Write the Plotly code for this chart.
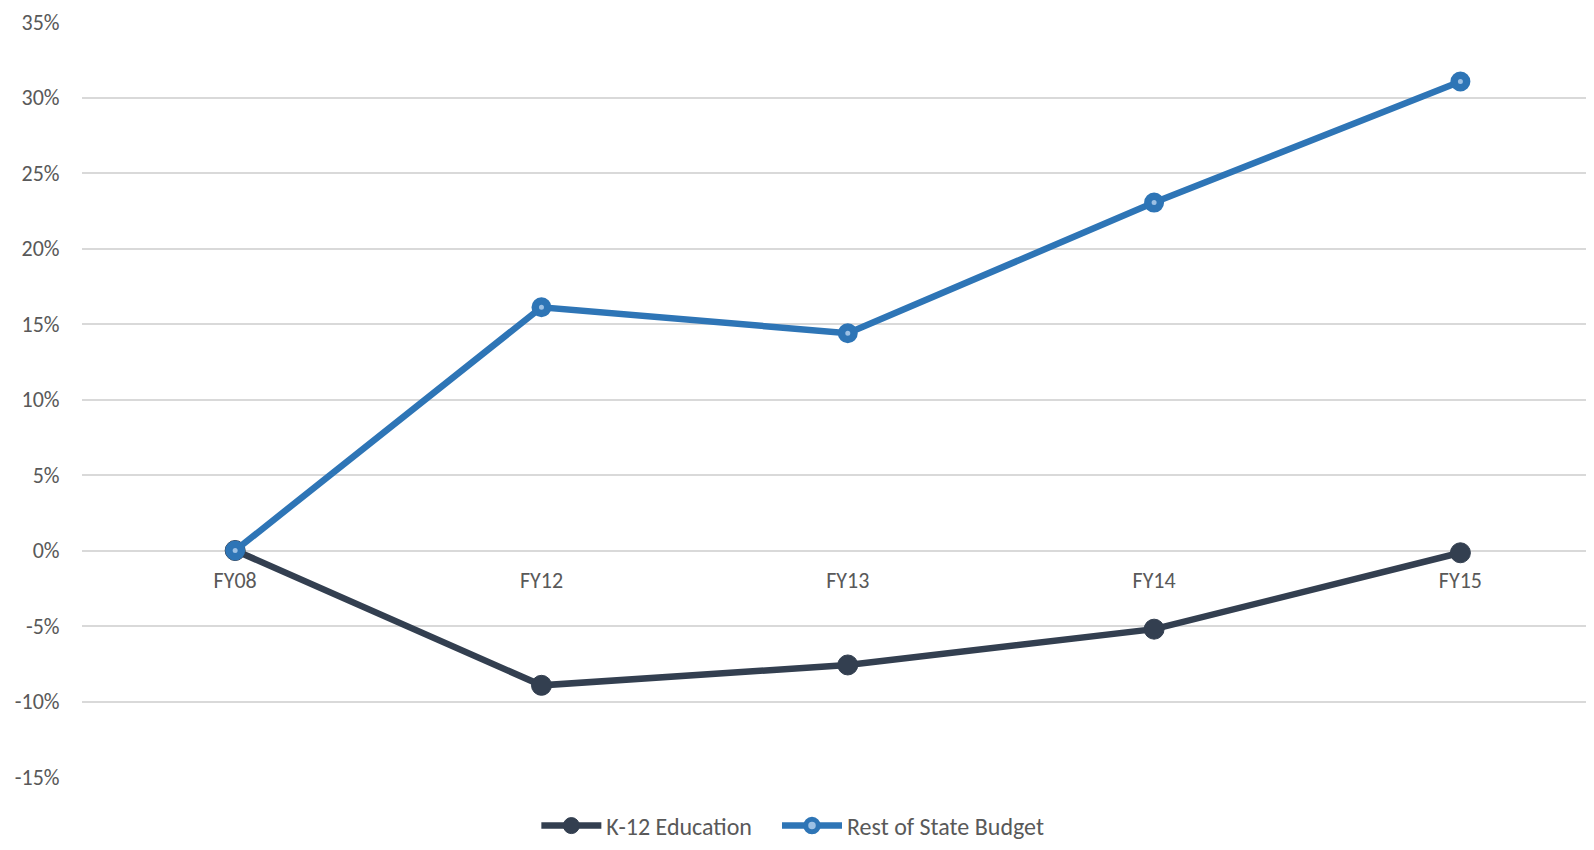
import plotly.graph_objects as go

categories = ["FY08", "FY12", "FY13", "FY14", "FY15"]
k12_values = [0.0, -8.93, -7.58, -5.21, -0.15]
rest_values = [0.0, 16.11, 14.39, 23.04, 31.06]
y_ticks = [-15, -10, -5, 0, 5, 10, 15, 20, 25, 30, 35]
y_tick_labels = [f"{v}%" for v in y_ticks]

dark = "#333f50"
blue = "#2e75b6"
font_family = "Carlito, Lato, 'Open Sans', sans-serif"

fig = go.Figure()
fig.add_trace(go.Scatter(
    x=categories, y=k12_values, name="K-12 Education", mode="lines+markers",
    line=dict(color=dark, width=6.5),
    marker=dict(size=20, color=dark, line=dict(color=dark, width=1)),
    legend="legend",
))
fig.add_trace(go.Scatter(
    x=categories, y=rest_values, name="Rest of State Budget", mode="lines+markers",
    line=dict(color=blue, width=6.5),
    marker=dict(size=12.5, color="#9cc0e4", line=dict(color=blue, width=7.5)),
    legend="legend2",
))

legend_style = dict(orientation="h", xanchor="left", y=-0.0649, yanchor="middle",
                    font=dict(size=24, color="#595959"), itemwidth=60,
                    bgcolor="rgba(0,0,0,0)")

fig.update_layout(
    width=1578, height=834,
    margin=dict(l=73.5, r=0, t=14, b=65, autoexpand=False),
    plot_bgcolor="white", paper_bgcolor="white",
    font=dict(family=font_family, size=22, color="#595959"),
    showlegend=True,
    legend=dict(x=0.3021, **legend_style),
    legend2=dict(x=0.4621, **legend_style),
    xaxis=dict(
        type="category", range=[-0.5, 4.41],
        showgrid=False, zeroline=False, showline=False,
        anchor="free", position=15/50,
        ticks="outside", ticklen=10, tickcolor="rgba(0,0,0,0)",
        tickfont=dict(size=22, color="#595959"),
    ),
    yaxis=dict(
        range=[-15, 35], tickvals=y_ticks, ticktext=y_tick_labels,
        showgrid=True, gridcolor="#d9d9d9", gridwidth=2,
        zeroline=False, showline=False,
        ticks="outside", ticklen=17, tickcolor="rgba(0,0,0,0)",
        tickfont=dict(size=22, color="#595959"),
    ),
)

fig.write_html("out.html")
